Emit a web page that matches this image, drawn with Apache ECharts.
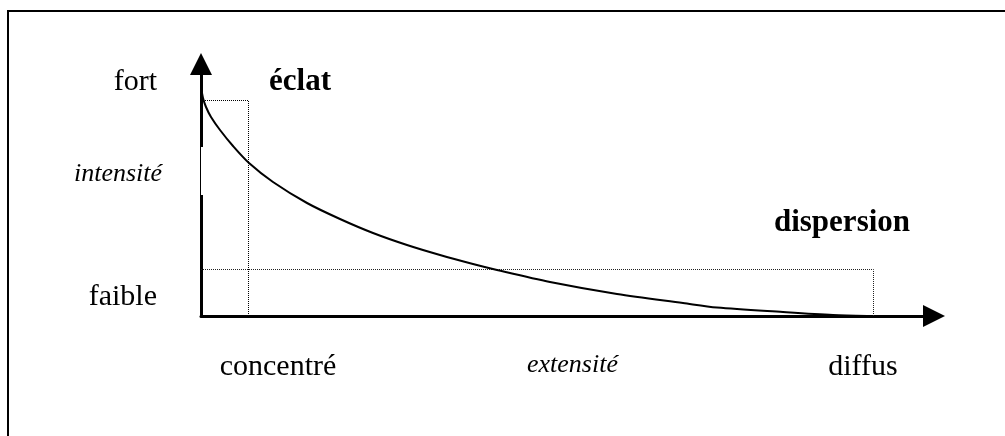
<!DOCTYPE html>
<html>
<head>
<meta charset="utf-8">
<script src="https://cdn.jsdelivr.net/npm/echarts@6/dist/echarts.min.js"></script>
<style>
  html, body { margin: 0; padding: 0; background: #fff; }
  #chart { width: 1005px; height: 436px; }
</style>
</head>
<body>
<div id="chart"></div>
<script>
// courbe intensité / extensité (unités = pixels du schéma)
const curveX = [0, 2, 5, 10, 19, 32, 48, 72, 106, 139, 172, 206, 239, 272, 296, 349, 416, 482, 516, 582, 632, 666]
const curveY = [229, 218, 209, 199, 186, 170, 153, 134, 113, 97, 83, 71, 61, 52, 46, 34, 22, 13, 8.5, 4, 1, 0]

// repères pointillés
const eclatBox = [[0, 215.5], [47.5, 215.5], [47.5, 0]]
const dispersionBox = [[0, 46.5], [672.5, 46.5], [672.5, 0]]

// graduations
const xTickValues = [77, 662]
const xTickLabels = ['concentré', 'diffus']
const yTickValues = [234, 19]
const yTickLabels = ['fort', 'faible']

// annotations
const notes = [
  { name: 'éclat', value: [99, 234] },
  { name: 'dispersion', value: [641, 93] }
]

// partie amincie de l'axe vertical
const axisGap = [[1.5, 121], [1.5, 169]]

const serif = '"Liberation Serif", "Times New Roman", serif'

const chart = echarts.init(document.getElementById('chart'))

const option = {
  animation: false,
  backgroundColor: '#fff',
  grid: { left: 201, top: 64, right: 71, bottom: 120, containLabel: false, outerBoundsMode: 'none' },
  graphic: [
    {
      type: 'polyline',
      shape: { points: [[8, 436], [8, 11], [1005, 11]] },
      style: { stroke: '#000', lineWidth: 2, fill: null }
    }
  ],
  xAxis: {
    type: 'value',
    min: 0,
    max: 733,
    splitLine: { show: false },
    axisTick: { show: false },
    axisLine: {
      show: true,
      lineStyle: { color: '#000', width: 3 },
      symbol: ['none', 'triangle'],
      symbolSize: [22, 22]
    },
    axisLabel: {
      customValues: xTickValues,
      formatter: (v) => xTickLabels[xTickValues.indexOf(v)] || '',
      color: '#000',
      fontFamily: serif,
      fontSize: 30,
      margin: 36
    },
    name: 'extensité',
    nameLocation: 'middle',
    nameGap: 36,
    nameMoveOverlap: false,
    nameTextStyle: {
      color: '#000',
      fontFamily: serif,
      fontStyle: 'italic',
      fontSize: 26,
      padding: [0, 0, 0, 10]
    }
  },
  yAxis: {
    type: 'value',
    min: 0,
    max: 252,
    splitLine: { show: false },
    axisTick: { show: false },
    axisLine: {
      show: true,
      lineStyle: { color: '#000', width: 3 },
      symbol: ['none', 'triangle'],
      symbolSize: [22, 22]
    },
    axisLabel: {
      customValues: yTickValues,
      formatter: (v) => yTickLabels[yTickValues.indexOf(v)] || '',
      color: '#000',
      fontFamily: serif,
      fontSize: 30,
      margin: 44
    },
    name: 'intensité',
    nameLocation: 'middle',
    nameRotate: 0,
    nameGap: 83,
    nameMoveOverlap: false,
    nameTextStyle: {
      color: '#000',
      fontFamily: serif,
      fontStyle: 'italic',
      fontSize: 26,
      align: 'center',
      verticalAlign: 'bottom',
      padding: [0, 0, 3, 0]
    }
  },
  series: [
    {
      type: 'line',
      data: axisGap,
      symbol: 'none',
      lineStyle: { color: '#fff', width: 3 },
      z: 3
    },
    {
      type: 'line',
      data: eclatBox,
      symbol: 'none',
      lineStyle: { color: '#000', width: 1, type: [1, 1] }
    },
    {
      type: 'line',
      data: dispersionBox,
      symbol: 'none',
      lineStyle: { color: '#222', width: 1, type: [1, 1] }
    },
    {
      type: 'line',
      data: curveX.map((x, i) => [x, curveY[i]]),
      symbol: 'none',
      smooth: 0.3,
      lineStyle: { color: '#000', width: 2 },
      z: 4
    },
    {
      type: 'scatter',
      data: notes,
      symbolSize: 0,
      itemStyle: { opacity: 1 },
      label: {
        show: true,
        position: 'inside',
        formatter: '{b}',
        color: '#000',
        opacity: 1,
        fontFamily: serif,
        fontWeight: 'bold',
        fontSize: 31
      }
    }
  ]
}

chart.setOption(option)
</script>
</body>
</html>
